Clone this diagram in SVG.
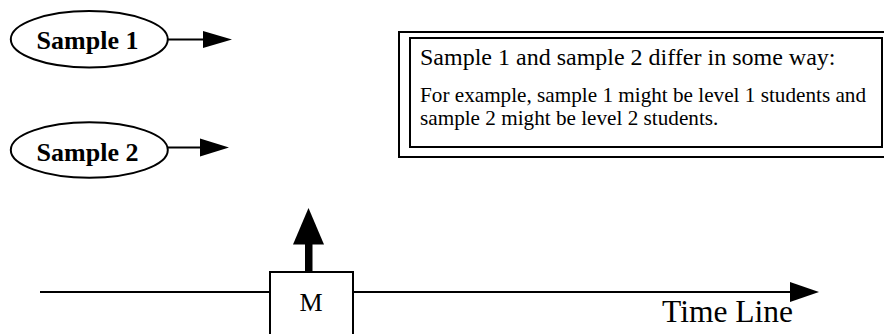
<svg xmlns="http://www.w3.org/2000/svg" width="884" height="334" viewBox="0 0 884 334">
<style>
  .shape { fill: #fff; stroke: #000; stroke-width: 2; }
  .line { stroke: #000; stroke-width: 2; fill: none; }
  .head { fill: #000; stroke: none; }
  .bold { font-family: "Liberation Serif", "Times New Roman", serif; font-weight: bold; fill: #000; }
  .serif { font-family: "Liberation Serif", "Times New Roman", serif; fill: #000; }
</style>
<rect width="884" height="334" fill="#fff"/>
<g id="connectors">
  <line class="line" x1="168" y1="39.5" x2="204" y2="39.5"/>
  <polygon class="head" points="203,31 203,48 232,39.5"/>
  <line class="line" x1="168" y1="147.5" x2="201" y2="147.5"/>
  <polygon class="head" points="200,138.5 200,156.5 229,147.5"/>
  <line class="line" x1="40" y1="292" x2="791" y2="292"/>
  <polygon class="head" points="790,282 790,302 819,292"/>
  <rect class="head" x="305" y="243" width="7.5" height="30"/>
  <polygon class="head" points="293,244.5 324,244.5 308.5,208"/>
  <text class="serif" x="662" y="322" font-size="31.5">Time Line</text>
</g>
<g id="sample1">
  <ellipse class="shape" cx="89.3" cy="39.3" rx="78.5" ry="28.2"/>
  <text class="bold" x="87.5" y="49" font-size="26" text-anchor="middle">Sample 1</text>
</g>
<g id="sample2">
  <ellipse class="shape" cx="89.3" cy="150" rx="78.5" ry="27.7"/>
  <text class="bold" x="87.5" y="160.5" font-size="26" text-anchor="middle">Sample 2</text>
</g>
<g id="note">
  <rect class="shape" x="399" y="32" width="500" height="125" stroke-width="2.5"/>
  <rect class="shape" x="410" y="38" width="472" height="109"/>
  <text class="serif" x="420" y="65" font-size="24">Sample 1 and sample 2 differ in some way:</text>
  <text class="serif" x="420" y="102" font-size="21.2">For example, sample 1 might be level 1 students and</text>
  <text class="serif" x="420" y="125" font-size="21.2">sample 2 might be level 2 students.</text>
</g>
<g id="measurement">
  <rect class="shape" x="270" y="272" width="83" height="80"/>
  <text class="serif" x="311" y="311" font-size="26" text-anchor="middle">M</text>
</g>
</svg>
